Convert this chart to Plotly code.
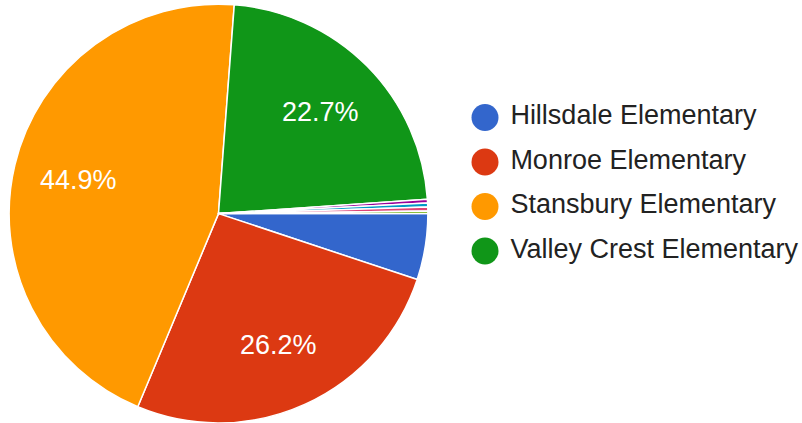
import math
import plotly.graph_objects as go

# Data
schools = ["Hillsdale Elementary", "Monroe Elementary", "Stansbury Elementary",
           "Valley Crest Elementary", "Other A", "Other B", "Other C", "Other D"]
shares = [5.1, 26.2, 44.9, 22.7, 0.3, 0.3, 0.3, 0.2]
colors = ["#3366cc", "#dc3912", "#ff9900", "#109618",
          "#990099", "#0099c6", "#dd4477", "#66aa00"]
legend_count = 4
label_min = 10.0  # slices below this share get no label

W, H = 802, 423
start_deg = 90           # first slice starts at 3 o'clock, clockwise
dom_x = [9 / W, 428 / W]
dom_y = [0, 0.99]
label_frac = 0.69        # label distance as fraction of radius

fig = go.Figure()
fig.add_trace(go.Pie(
    labels=schools, values=shares, sort=False, direction="clockwise",
    rotation=start_deg,
    marker=dict(colors=colors, line=dict(color="white", width=1.5)),
    textinfo="none",
    domain=dict(x=dom_x, y=dom_y),
    showlegend=False, hoverinfo="label+percent",
))

# Percent labels placed at slice mid-angles
total = sum(shares)
cx = (dom_x[0] + dom_x[1]) / 2 * W
cy = H - (dom_y[0] + dom_y[1]) / 2 * H
R = min((dom_x[1] - dom_x[0]) * W, (dom_y[1] - dom_y[0]) * H) / 2
acc = 0.0
for s in shares:
    mid = start_deg + (acc + s / 2) / total * 360
    acc += s
    if s < label_min:
        continue
    px = cx + label_frac * R * math.sin(math.radians(mid))
    py = cy - label_frac * R * math.cos(math.radians(mid))
    fig.add_annotation(
        x=px / W, y=1 - py / H, xref="paper", yref="paper",
        text=f"{s / total * 100:.1f}%", showarrow=False,
        xanchor="center", yanchor="middle",
        font=dict(family="Liberation Sans, Arial, sans-serif", size=27, color="white"),
    )

# Legend drawn as a scatter of circles with labels
fig.add_trace(go.Scatter(
    x=[485] * legend_count, y=list(range(legend_count)),
    mode="markers+text",
    marker=dict(symbol="circle", size=27, color=colors[:legend_count]),
    text=[" " + s for s in schools[:legend_count]],
    textposition="middle right",
    textfont=dict(family="Liberation Sans, Arial, sans-serif", size=27, color="#222222"),
    showlegend=False, hoverinfo="skip", cliponaxis=False,
))

top_row_px = 117.5
row_gap = 44.5
fig.update_layout(
    width=W, height=H,
    margin=dict(l=0, r=0, t=0, b=0),
    paper_bgcolor="white", plot_bgcolor="rgba(0,0,0,0)",
    xaxis=dict(range=[0, W], visible=False, fixedrange=True),
    yaxis=dict(range=[(H - top_row_px) / row_gap, -top_row_px / row_gap],
               visible=False, fixedrange=True),
    showlegend=False,
)

fig.write_html("out.html", config={"displayModeBar": False},
               post_script="document.body.style.margin='0';")
